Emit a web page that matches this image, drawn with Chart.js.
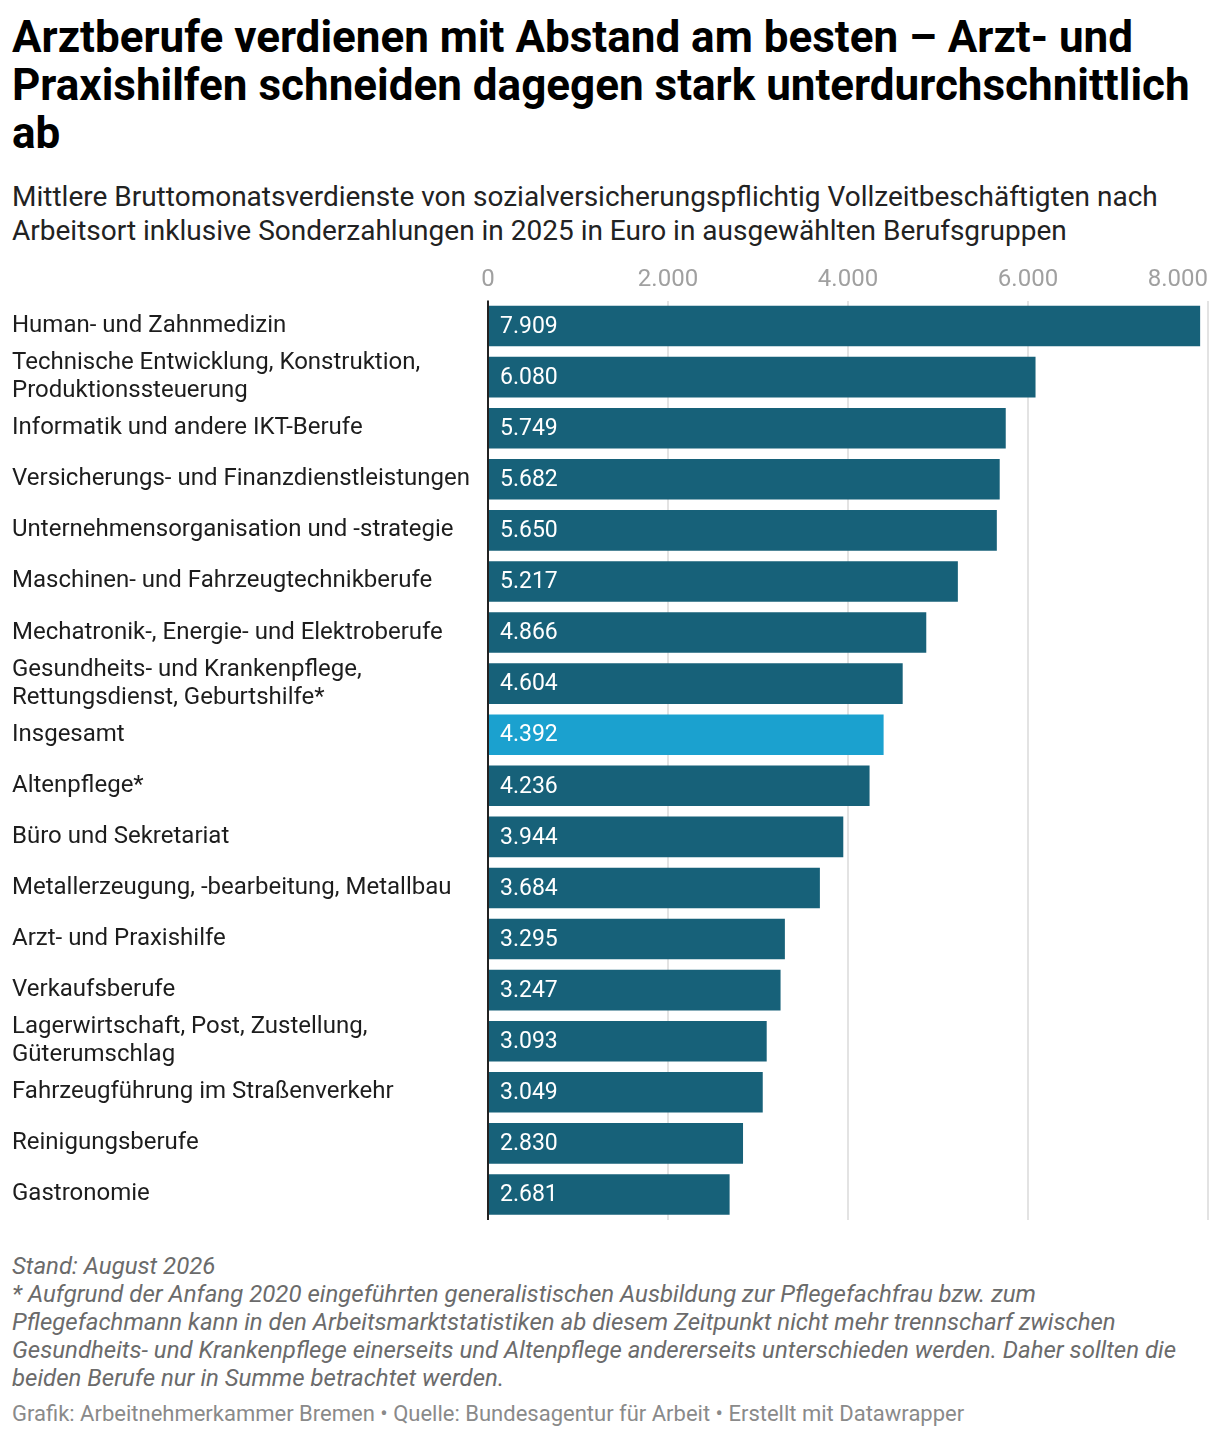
<!DOCTYPE html>
<html lang="de">
<head>
<meta charset="utf-8">
<script src="https://cdn.jsdelivr.net/npm/chart.js@4"></script>
<style>
  body { margin: 0; background: #fff; font-family: Roboto, sans-serif; color: #1d1d1d; }
  .wrap { width: 1220px; height: 1440px; position: relative; }
  h1 { position: absolute; left: 12px; top: 13px; margin: 0; font-size: 44px; line-height: 48px; font-weight: 700; color: #000; white-space: nowrap; }
  .sub { position: absolute; left: 12px; top: 180px; margin: 0; font-size: 28px; line-height: 34px; color: #222; white-space: nowrap; }
  .chartbox { position: absolute; left: 0; top: 262px; width: 1220px; height: 978px; }
  .notes { position: absolute; left: 12px; top: 1252px; font-size: 24px; line-height: 28px; font-style: italic; color: #6b6b6b; white-space: nowrap; }
  .credit { position: absolute; left: 12px; top: 1400px; font-size: 22px; line-height: 28px; color: #8a8a8a; white-space: nowrap; }
</style>
</head>
<body>
<div class="wrap">
  <h1>Arztberufe verdienen mit Abstand am besten – Arzt- und<br>Praxishilfen schneiden dagegen stark unterdurchschnittlich<br>ab</h1>
  <p class="sub">Mittlere Bruttomonatsverdienste von sozialversicherungspflichtig Vollzeitbeschäftigten nach<br>Arbeitsort inklusive Sonderzahlungen in 2025 in Euro in ausgewählten Berufsgruppen</p>
  <div class="chartbox"><canvas id="myChart"></canvas></div>
  <div class="notes">Stand: August 2026<br>* Aufgrund der Anfang 2020 eingeführten generalistischen Ausbildung zur Pflegefachfrau bzw. zum<br>Pflegefachmann kann in den Arbeitsmarktstatistiken ab diesem Zeitpunkt nicht mehr trennscharf zwischen<br>Gesundheits- und Krankenpflege einerseits und Altenpflege andererseits unterschieden werden. Daher sollten die<br>beiden Berufe nur in Summe betrachtet werden.</div>
  <div class="credit">Grafik: Arbeitnehmerkammer Bremen • Quelle: Bundesagentur für Arbeit • Erstellt mit Datawrapper</div>
</div>
<script>
let ctx = document.getElementById('myChart').getContext('2d');

// Berufsgruppen (mehrzeilige Labels als Arrays)
let labels = [
  'Human- und Zahnmedizin',
  ['Technische Entwicklung, Konstruktion,', 'Produktionssteuerung'],
  'Informatik und andere IKT-Berufe',
  'Versicherungs- und Finanzdienstleistungen',
  'Unternehmensorganisation und -strategie',
  'Maschinen- und Fahrzeugtechnikberufe',
  'Mechatronik-, Energie- und Elektroberufe',
  ['Gesundheits- und Krankenpflege,', 'Rettungsdienst, Geburtshilfe*'],
  'Insgesamt',
  'Altenpflege*',
  'Büro und Sekretariat',
  'Metallerzeugung, -bearbeitung, Metallbau',
  'Arzt- und Praxishilfe',
  'Verkaufsberufe',
  ['Lagerwirtschaft, Post, Zustellung,', 'Güterumschlag'],
  'Fahrzeugführung im Straßenverkehr',
  'Reinigungsberufe',
  'Gastronomie'
];
let values = [7909, 6080, 5749, 5682, 5650, 5217, 4866, 4604, 4392, 4236, 3944, 3684, 3295, 3247, 3093, 3049, 2830, 2681];
let highlight = 'Insgesamt';
let xTicks = [0, 2000, 4000, 6000, 8000];

const barColor = '#176179';
const hiColor = '#1ba1cf';

function fmt(v) {
  return String(v).replace(/\B(?=(\d{3})+(?!\d))/g, '.');
}

// Werte in den Balken, obere Achsenbeschriftung und Nulllinie
const extras = {
  id: 'extras',
  afterDatasetsDraw(chart) {
    const c = chart.ctx;
    const x = chart.scales.x;
    const area = chart.chartArea;
    const x0 = x.getPixelForValue(0);
    c.save();
    // Nulllinie
    c.strokeStyle = '#222';
    c.lineWidth = 2;
    c.beginPath();
    c.moveTo(x0, area.top);
    c.lineTo(x0, area.bottom);
    c.stroke();
    // Werte
    c.font = '23px Roboto';
    c.fillStyle = '#fff';
    c.textBaseline = 'middle';
    c.textAlign = 'left';
    chart.getDatasetMeta(0).data.forEach((bar, i) => {
      c.fillText(fmt(values[i]), x0 + 12, bar.y + 1);
    });
    // x-Achse oben
    c.font = '24px Roboto';
    c.fillStyle = '#a0a0a0';
    xTicks.forEach((t, i) => {
      c.textAlign = i === xTicks.length - 1 ? 'right' : 'center';
      c.fillText(fmt(t), x.getPixelForValue(t), 18);
    });
    c.restore();
  }
};

let chart = new Chart(ctx, {
  type: 'bar',
  data: {
    labels: labels,
    datasets: [{
      data: values,
      backgroundColor: labels.map(l => l === highlight ? hiColor : barColor),
      barThickness: 40,
      borderWidth: 0
    }]
  },
  plugins: [extras],
  options: {
    indexAxis: 'y',
    responsive: true,
    maintainAspectRatio: false,
    animation: false,
    layout: { padding: { left: 12, right: 12, top: 38.5, bottom: 20 } },
    plugins: { legend: { display: false }, tooltip: { enabled: false } },
    scales: {
      x: {
        position: 'top',
        min: 0,
        max: 8000,
        afterBuildTicks: function(scale) {
          scale.ticks = xTicks.map(v => ({ value: v }));
        },
        ticks: { display: false },
        grid: { color: '#e3e3e3', lineWidth: 2, drawTicks: false },
        border: { display: false }
      },
      y: {
        afterFit: function(scale) { scale.width = 476; },
        ticks: {
          autoSkip: false,
          crossAlign: 'far',
          color: '#1d1d1d',
          font: { family: 'Roboto', size: 24, lineHeight: 1.1667 },
          padding: 0
        },
        grid: { display: false },
        border: { display: false }
      }
    }
  }
});
</script>
</body>
</html>
